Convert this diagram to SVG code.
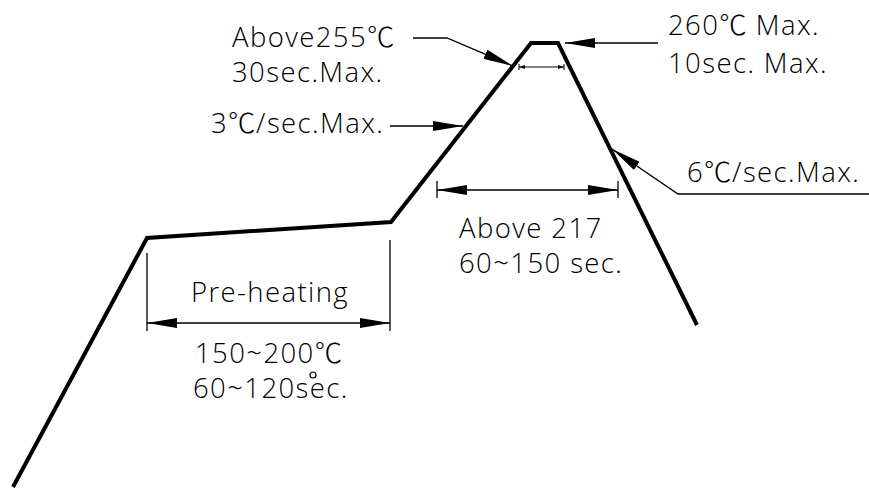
<svg xmlns="http://www.w3.org/2000/svg" width="869" height="488" viewBox="0 0 869 488">
<style>
text{font-family:"Open Sans","Noto Sans","Noto Sans CJK KR",sans-serif;font-size:27.5px;font-weight:350;letter-spacing:1.4px;fill:#000}
.deg{font-family:"Noto Sans CJK KR",sans-serif;font-weight:300;letter-spacing:0.5px}
.prof{fill:none;stroke:#000;stroke-width:4;stroke-linejoin:miter}
.ln{fill:none;stroke:#000;stroke-width:1.3}
.thin{fill:none;stroke:#000;stroke-width:1}
</style>
<defs>
<marker id="ar" viewBox="0 0 30 10" refX="30" refY="5" markerWidth="30" markerHeight="10" markerUnits="userSpaceOnUse" orient="auto-start-reverse">
<path d="M0,0 L30,5 L0,10 Z" fill="#000"/>
</marker>
<marker id="sm" viewBox="0 0 6 4" refX="6" refY="2" markerWidth="6" markerHeight="4" markerUnits="userSpaceOnUse" orient="auto-start-reverse">
<path d="M0,0 L6,2 L0,4 Z" fill="#000"/>
</marker>
</defs>
<g id="profile">
<polyline class="prof" points="13,487 147,238 391,222 531,43 558,43 697,325"/>
</g>
<g id="connectors">
<polyline class="ln" points="413,38 447,38 513,66" marker-end="url(#ar)"/>
<line class="ln" x1="390" y1="126" x2="463" y2="126" marker-end="url(#ar)"/>
<line class="ln" x1="658" y1="43" x2="565" y2="43" marker-end="url(#ar)"/>
<polyline class="ln" points="869,194 678,194 612,149" marker-end="url(#ar)"/>
<line class="thin" x1="519" y1="67" x2="564" y2="67" marker-start="url(#sm)" marker-end="url(#sm)"/>
<line class="thin" x1="519" y1="64" x2="519" y2="70"/>
<line class="thin" x1="564" y1="64" x2="564" y2="70"/>
<line class="ln" x1="437" y1="190" x2="618" y2="190" marker-start="url(#ar)" marker-end="url(#ar)"/>
<line class="ln" x1="437" y1="181" x2="437" y2="198"/>
<line class="ln" x1="618" y1="181" x2="618" y2="198"/>
<line class="ln" x1="147" y1="323" x2="390" y2="323" marker-start="url(#ar)" marker-end="url(#ar)"/>
<line class="ln" x1="147" y1="253" x2="147" y2="331"/>
<line class="ln" x1="390" y1="240" x2="390" y2="331"/>
</g>
<g id="label-above255">
<text x="232" y="47">Above255<tspan class="deg">℃</tspan></text>
<text x="232" y="82">30sec.Max.</text>
</g>
<g id="label-rate3">
<text x="211" y="133">3<tspan class="deg">℃</tspan>/sec.Max.</text>
</g>
<g id="label-260">
<text x="668" y="35">260<tspan class="deg">℃</tspan> Max.</text>
<text x="668" y="73">10sec. Max.</text>
</g>
<g id="label-rate6">
<text x="687" y="182">6<tspan class="deg">℃</tspan>/sec.Max.</text>
</g>
<g id="label-above217">
<text x="459" y="238">Above 217</text>
<text x="459" y="273">60~150 sec.</text>
</g>
<g id="label-preheat">
<text x="270" y="302" text-anchor="middle">Pre-heating</text>
<text x="195" y="363">150~200<tspan class="deg">℃</tspan></text>
<text x="193" y="398">60~120sec.</text>
<circle cx="313" cy="375" r="3" fill="none" stroke="#000" stroke-width="1.2"/>
</g>
</svg>
